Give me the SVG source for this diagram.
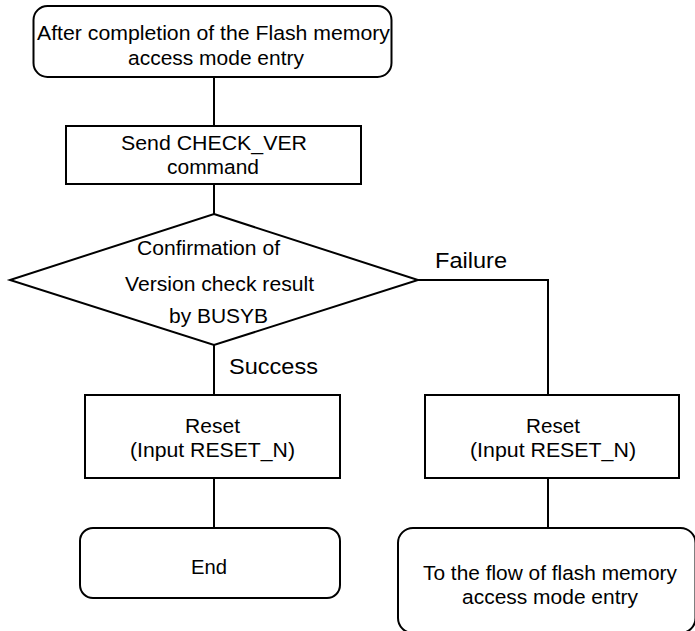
<svg xmlns="http://www.w3.org/2000/svg" width="695" height="631" viewBox="0 0 695 631">
<style>
.s{fill:#fff;stroke:#000;stroke-width:2}
.c{fill:none;stroke:#000;stroke-width:2}
text{font-family:"Liberation Sans",Arial,sans-serif;font-size:20.5px;fill:#000}
.l{font-size:22px}
</style>
<rect width="695" height="631" fill="#fff"/>
<g id="connectors">
<path class="c" d="M214 77V126"/>
<path class="c" d="M214 184V214"/>
<path class="c" d="M214 345V395"/>
<path class="c" d="M418 280H548V395"/>
<path class="c" d="M214 478V528"/>
<path class="c" d="M548 478V528"/>
</g>
<g id="start">
<rect class="s" x="33.5" y="6" width="358" height="71" rx="14"/>
<text x="37" y="40" textLength="353" lengthAdjust="spacingAndGlyphs">After completion of the Flash memory</text>
<text x="128" y="65" textLength="176" lengthAdjust="spacingAndGlyphs">access mode entry</text>
</g>
<g id="send">
<rect class="s" x="66" y="126" width="295" height="58"/>
<text x="121" y="150" textLength="186" lengthAdjust="spacingAndGlyphs">Send CHECK_VER</text>
<text x="167" y="174" textLength="92" lengthAdjust="spacingAndGlyphs">command</text>
</g>
<g id="decision">
<polygon class="s" points="214,214 418,280 214,345 10,280"/>
<text x="137" y="255" textLength="143" lengthAdjust="spacingAndGlyphs">Confirmation of</text>
<text x="125" y="291" textLength="189" lengthAdjust="spacingAndGlyphs">Version check result</text>
<text x="169" y="323" textLength="99" lengthAdjust="spacingAndGlyphs">by BUSYB</text>
</g>
<g id="labels">
<text class="l" x="229" y="374" textLength="89" lengthAdjust="spacingAndGlyphs">Success</text>
<text class="l" x="435" y="268" textLength="72" lengthAdjust="spacingAndGlyphs">Failure</text>
</g>
<g id="reset-left">
<rect class="s" x="85" y="395" width="255" height="83"/>
<text x="185" y="433" textLength="55" lengthAdjust="spacingAndGlyphs">Reset</text>
<text x="130" y="457" textLength="165" lengthAdjust="spacingAndGlyphs">(Input RESET_N)</text>
</g>
<g id="reset-right">
<rect class="s" x="425" y="395" width="254" height="83"/>
<text x="526" y="433" textLength="54" lengthAdjust="spacingAndGlyphs">Reset</text>
<text x="470" y="457" textLength="166" lengthAdjust="spacingAndGlyphs">(Input RESET_N)</text>
</g>
<g id="end">
<rect class="s" x="80" y="528" width="260" height="70" rx="13"/>
<text x="191" y="574" textLength="36" lengthAdjust="spacingAndGlyphs">End</text>
</g>
<g id="to-flow">
<rect class="s" x="398" y="528" width="297.5" height="105" rx="15"/>
<text x="423" y="580" textLength="254" lengthAdjust="spacingAndGlyphs">To the flow of flash memory</text>
<text x="462" y="604" textLength="176" lengthAdjust="spacingAndGlyphs">access mode entry</text>
</g>
</svg>
